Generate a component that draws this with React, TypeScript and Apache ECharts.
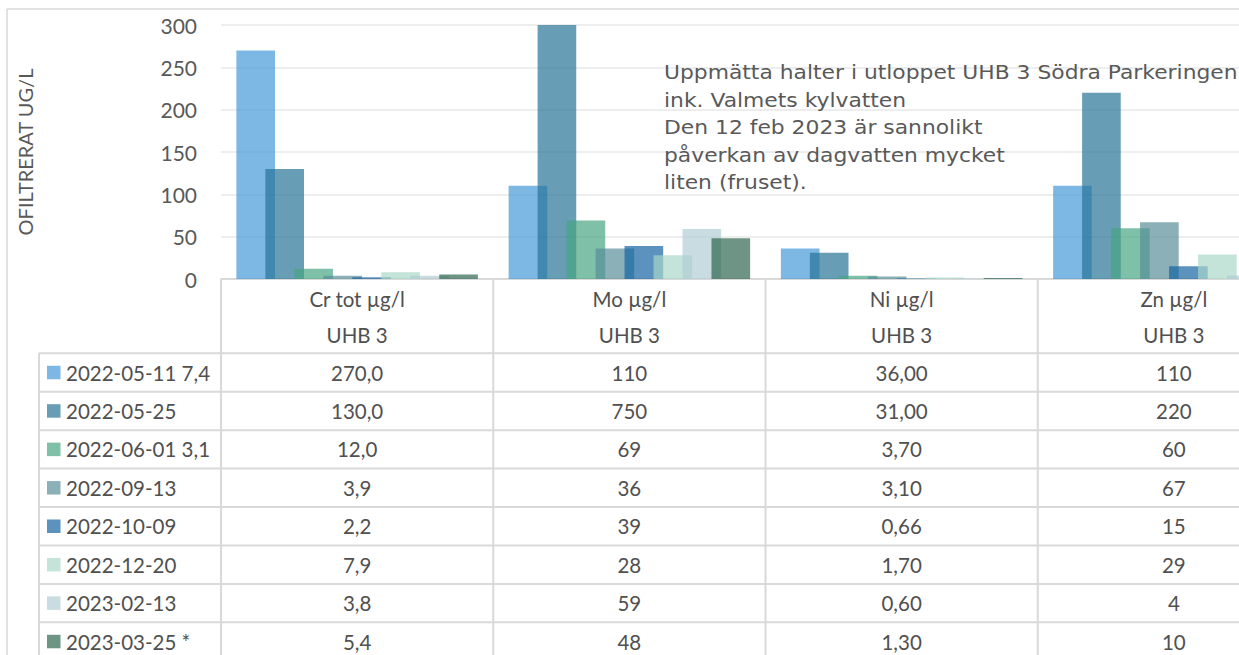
import React, { useEffect, useRef } from 'react';
import * as echarts from 'echarts';

// ---- data ----
const categories = ['Cr tot µg/l', 'Mo µg/l', 'Ni µg/l', 'Zn µg/l'];
const stationLabel = 'UHB 3';
const seriesNames = [
  '2022-05-11 7,4',
  '2022-05-25',
  '2022-06-01 3,1',
  '2022-09-13',
  '2022-10-09',
  '2022-12-20',
  '2023-02-13',
  '2023-03-25 *',
];
const s20220511 = [270, 110, 36, 110];
const s20220525 = [130, 750, 31, 220];
const s20220601 = [12, 69, 3.7, 60];
const s20220913 = [3.9, 36, 3.1, 67];
const s20221009 = [2.2, 39, 0.66, 15];
const s20221220 = [7.9, 28, 1.7, 29];
const s20230213 = [3.8, 59, 0.6, 4];
const s20230325 = [5.4, 48, 1.3, 10];
const seriesValues = [s20220511, s20220525, s20220601, s20220913, s20221009, s20221220, s20230213, s20230325];
const decimals = [1, 0, 2, 0];
const yMin = 0;
const yMax = 300;
const yInterval = 50;
const yAxisTitle = 'OFILTRERAT UG/L';
const noteLines = [
  'Uppmätta halter i utloppet UHB 3 Södra Parkeringen',
  'ink. Valmets kylvatten',
  'Den 12 feb 2023 är sannolikt',
  'påverkan av dagvatten mycket',
  'liten (fruset).',
];

// ---- styles ----
const colors = [
  'rgba(67,152,216,0.69)',
  'rgba(36,114,148,0.69)',
  'rgba(70,164,129,0.69)',
  'rgba(88,140,152,0.69)',
  'rgba(17,99,161,0.69)',
  'rgba(170,214,200,0.69)',
  'rgba(177,204,211,0.69)',
  'rgba(45,100,77,0.69)',
];
const W = 1239;
const H = 655;
const CW = 1330; // chart canvas is wider than the window; the right part is cut off like the reference
const FONT = 'Lato';
const TEXT = '#505050';
const LINE = '#D9D9D9';

function fmt(v: number, d: number): string {
  return v.toFixed(d).replace('.', ',');
}

export default function App() {
  const ref = useRef<HTMLDivElement>(null);
  useEffect(() => {
    if (!ref.current) return;
    const chart = echarts.init(ref.current, undefined, { renderer: 'svg' });
    const gridTop = 25;
    const gridBottomY = 279;
    chart.setOption({
      animation: false,
      grid: { left: 221, right: CW - 1310, top: gridTop, bottom: H - gridBottomY, containLabel: false },
      xAxis: {
        type: 'category',
        data: categories,
        axisLine: { lineStyle: { color: LINE, width: 2 } },
        axisTick: { show: false },
        axisLabel: {
          interval: 0,
          margin: 2,
          formatter: (v: string) => `{a|${v}}\n{a|${stationLabel}}`,
          rich: { a: { fontSize: 20.5, fontFamily: FONT, color: TEXT, lineHeight: 36 } },
        },
      },
      yAxis: {
        type: 'value',
        min: yMin,
        max: yMax,
        interval: yInterval,
        axisLine: { show: false },
        axisTick: { show: false },
        axisLabel: { fontSize: 21, fontFamily: FONT, color: '#595959', margin: 24 },
        splitLine: { lineStyle: { color: '#E8E8E8', width: 1.5 } },
        name: yAxisTitle,
        nameLocation: 'middle',
        nameGap: 186,
        nameTextStyle: { fontSize: 20, fontFamily: FONT, color: '#595959' },
      },
      series: seriesNames.map((name, i) => ({
        type: 'bar',
        name,
        data: seriesValues[i],
        barGap: '-25%',
        barCategoryGap: '11.3%',
        clip: true,
        itemStyle: { color: colors[i] },
      })),
    });

    const c0 = chart.convertToPixel({ xAxisIndex: 0 }, 0) as number;
    const c1 = chart.convertToPixel({ xAxisIndex: 0 }, 1) as number;
    const catW = c1 - c0;
    const centers = categories.map((_, i) => chart.convertToPixel({ xAxisIndex: 0 }, i) as number);
    const tableTop = gridBottomY + 1;
    const rowTop = 353.3;
    const rowH = 38.43;
    const leftX = 39;
    const g: any[] = [];
    g.push({ type: 'line', shape: { x1: 7, y1: 9, x2: CW, y2: 9 }, style: { stroke: LINE, lineWidth: 1.5 } });
    g.push({ type: 'line', shape: { x1: 7, y1: 9, x2: 7, y2: H }, style: { stroke: LINE, lineWidth: 1.5 } });
    for (let i = 0; i <= categories.length; i++) {
      const x = c0 - catW / 2 + i * catW;
      g.push({ type: 'line', shape: { x1: x, y1: tableTop, x2: x, y2: H }, style: { stroke: LINE, lineWidth: 2 } });
    }
    g.push({ type: 'line', shape: { x1: leftX, y1: rowTop, x2: leftX, y2: H }, style: { stroke: LINE, lineWidth: 2 } });
    for (let r = 0; r <= seriesNames.length; r++) {
      const y = rowTop + r * rowH;
      g.push({ type: 'line', shape: { x1: leftX, y1: y, x2: CW, y2: y }, style: { stroke: LINE, lineWidth: 2 } });
    }
    seriesNames.forEach((name, r) => {
      const cy = rowTop + r * rowH + rowH / 2;
      g.push({ type: 'rect', shape: { x: 47, y: cy - 6.75, width: 13.5, height: 13.5 }, style: { fill: colors[r] } });
      g.push({
        type: 'text', x: 66, y: cy,
        style: { text: name, fontSize: 20.5, fontFamily: FONT, fill: TEXT, align: 'left', verticalAlign: 'middle' },
      });
      seriesValues[r].forEach((v, ci) => {
        g.push({
          type: 'text', x: centers[ci], y: cy,
          style: { text: fmt(v, decimals[ci]), fontSize: 20.5, fontFamily: FONT, fill: TEXT, align: 'center', verticalAlign: 'middle' },
        });
      });
    });
    g.push({
      type: 'text', x: 664, y: 59, scaleX: 1.12,
      style: {
        text: noteLines.join('\n'), fontSize: 19.5, fontFamily: 'DejaVu Sans', fill: '#595959',
        lineHeight: 27.5, align: 'left', verticalAlign: 'top',
      },
    });
    chart.setOption({ graphic: g });
    return () => chart.dispose();
  }, []);
  return (
    <div style={{ position: 'absolute', left: 0, top: 0, width: W, height: H, overflow: 'hidden', background: '#fff' }}>
      <div ref={ref} style={{ width: CW, height: H }} />
    </div>
  );
}
